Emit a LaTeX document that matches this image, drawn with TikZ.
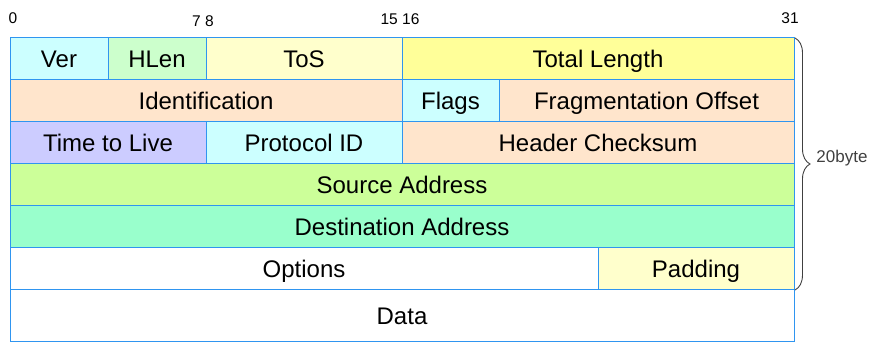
\documentclass[tikz,border=0pt]{standalone}
\usepackage{fontspec}
\setmainfont{Liberation Sans}
\usetikzlibrary{decorations.pathreplacing}
\definecolor{edgeblue}{HTML}{2F95F0}
\definecolor{cyanc}{HTML}{CCFFFF}
\definecolor{hlenc}{HTML}{CCFFCC}
\definecolor{paleyel}{HTML}{FFFFCC}
\definecolor{totc}{HTML}{FFFF99}
\definecolor{peach}{HTML}{FFE5CC}
\definecolor{ttlc}{HTML}{CCCCFF}
\definecolor{srcc}{HTML}{CCFF99}
\definecolor{dstc}{HTML}{99FFCC}

\begin{document}
\begin{tikzpicture}[x=1pt,y=-1pt,
    field/.style={draw=edgeblue,line width=1pt,anchor=north west,outer sep=0pt,inner sep=0pt,
        minimum height=42pt,text height=17pt,text depth=0pt,font=\fontsize{24}{26}\selectfont},
    bitno/.style={anchor=base,inner sep=0pt,font=\fontsize{15.5}{17}\selectfont}]
        \useasboundingbox (0,0) rectangle (886,344);
        % bit numbers
        \node[bitno] (b0) at (13,24) {0};
        \node[bitno] (b7) at (203,27) {7 8};
        \node[bitno] (b15) at (400,25) {15 16};
        \node[bitno] (b31) at (790,24) {31};
        % header rows
        \node[field,fill=cyanc,minimum width=98pt] (ver) at (10,38) {Ver};
        \node[field,fill=hlenc,minimum width=98pt] (hlen) at (108,38) {HLen};
        \node[field,fill=paleyel,minimum width=196pt] (tos) at (206,38) {ToS};
        \node[field,fill=totc,minimum width=392pt] (tot) at (402,38) {Total Length};
        \node[field,fill=peach,minimum width=392pt] (ident) at (10,80) {Identification};
        \node[field,fill=cyanc,minimum width=97pt] (flags) at (402,80) {Flags};
        \node[field,fill=peach,minimum width=295pt] (frag) at (499,80) {Fragmentation Offset};
        \node[field,fill=ttlc,minimum width=196pt] (ttl) at (10,122) {Time to Live};
        \node[field,fill=cyanc,minimum width=196pt] (proto) at (206,122) {Protocol ID};
        \node[field,fill=peach,minimum width=392pt] (chk) at (402,122) {Header Checksum};
        \node[field,fill=srcc,minimum width=784pt] (src) at (10,164) {Source Address};
        \node[field,fill=dstc,minimum width=784pt] (dst) at (10,206) {Destination Address};
        \node[field,fill=white,minimum width=588pt] (opt) at (10,248) {Options};
        \node[field,fill=paleyel,minimum width=196pt] (pad) at (598,248) {Padding};
        \node[field,fill=white,minimum width=784pt,minimum height=52pt] (data) at (10,290) {Data};
        % header size
        \draw[black!75,line width=0.9pt,decorate,decoration={brace,amplitude=15pt}]
            ([xshift=1pt]tot.north east) -- ([xshift=1pt]pad.south east)
            node[midway,anchor=base west,xshift=21pt,yshift=1pt,inner sep=0pt,font=\fontsize{17}{19}\selectfont] (hsize) {20byte};
    \end{tikzpicture}
\end{document}
